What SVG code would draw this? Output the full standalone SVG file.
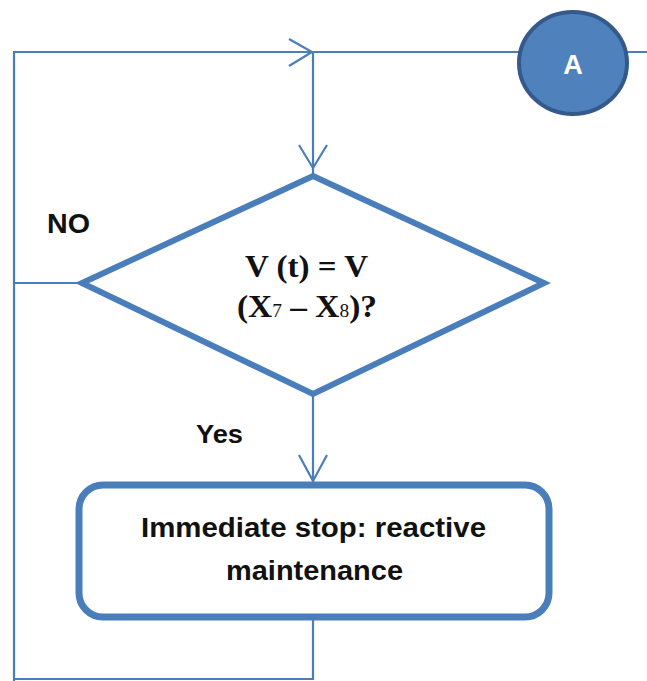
<svg xmlns="http://www.w3.org/2000/svg" width="647" height="681" viewBox="0 0 647 681">
<defs>
<style>
.conn{fill:none;stroke:#4a7ebb;stroke-width:2.2}
.arr{fill:none;stroke:#4a7ebb;stroke-width:2.2;stroke-linejoin:miter}
.lbl{font-family:"Liberation Sans",Arial,sans-serif;font-weight:bold;fill:#111}
.math{font-family:"Liberation Serif","Times New Roman",serif;font-weight:bold;fill:#111}
</style>
</defs>
<rect width="647" height="681" fill="#ffffff"/>
<g id="connectors">
<polyline class="conn" points="647,52 14,52 14,681"/>
<line class="conn" x1="313" y1="52" x2="313" y2="175"/>
<line class="conn" x1="14" y1="283" x2="82" y2="283"/>
<line class="conn" x1="313" y1="393" x2="313" y2="485"/>
<polyline class="conn" points="313,620 313,679 14,679"/>
<polyline class="arr" points="289,39 312,52 289,66"/>
<polyline class="arr" points="299,145 313,168 327,145"/>
<polyline class="arr" points="299,455 313,481 327,455"/>
<text class="lbl" x="47" y="233" font-size="27" textLength="43" lengthAdjust="spacingAndGlyphs">NO</text>
<text class="lbl" x="196" y="443" font-size="25" textLength="47" lengthAdjust="spacingAndGlyphs">Yes</text>
</g>
<g id="nodeA">
<ellipse cx="573" cy="63" rx="54" ry="51" fill="#4f81bd" stroke="#35598a" stroke-width="4"/>
<text x="573" y="74" font-family="Liberation Sans,Arial,sans-serif" font-weight="bold" font-size="27" fill="#ffffff" text-anchor="middle">A</text>
</g>
<g id="decision">
<polygon points="313,176 544,283 313,394 82,283" fill="#ffffff" stroke="#4a7ebb" stroke-width="6" stroke-linejoin="miter"/>
<text class="math" x="245" y="277" font-size="31" textLength="123" lengthAdjust="spacingAndGlyphs">V (t) = V</text>
<text class="math" x="237" y="317" font-size="31" textLength="140" lengthAdjust="spacingAndGlyphs">(X<tspan font-size="18" font-weight="normal">7</tspan> – X<tspan font-size="18" font-weight="normal">8</tspan>)?</text>
</g>
<g id="action">
<rect x="79" y="485" width="470" height="132" rx="24" ry="24" fill="#ffffff" stroke="#4a7ebb" stroke-width="7"/>
<text class="lbl" x="141" y="537" font-size="27" textLength="345" lengthAdjust="spacingAndGlyphs">Immediate stop: reactive</text>
<text class="lbl" x="226" y="580" font-size="27" textLength="177" lengthAdjust="spacingAndGlyphs">maintenance</text>
</g>
</svg>
